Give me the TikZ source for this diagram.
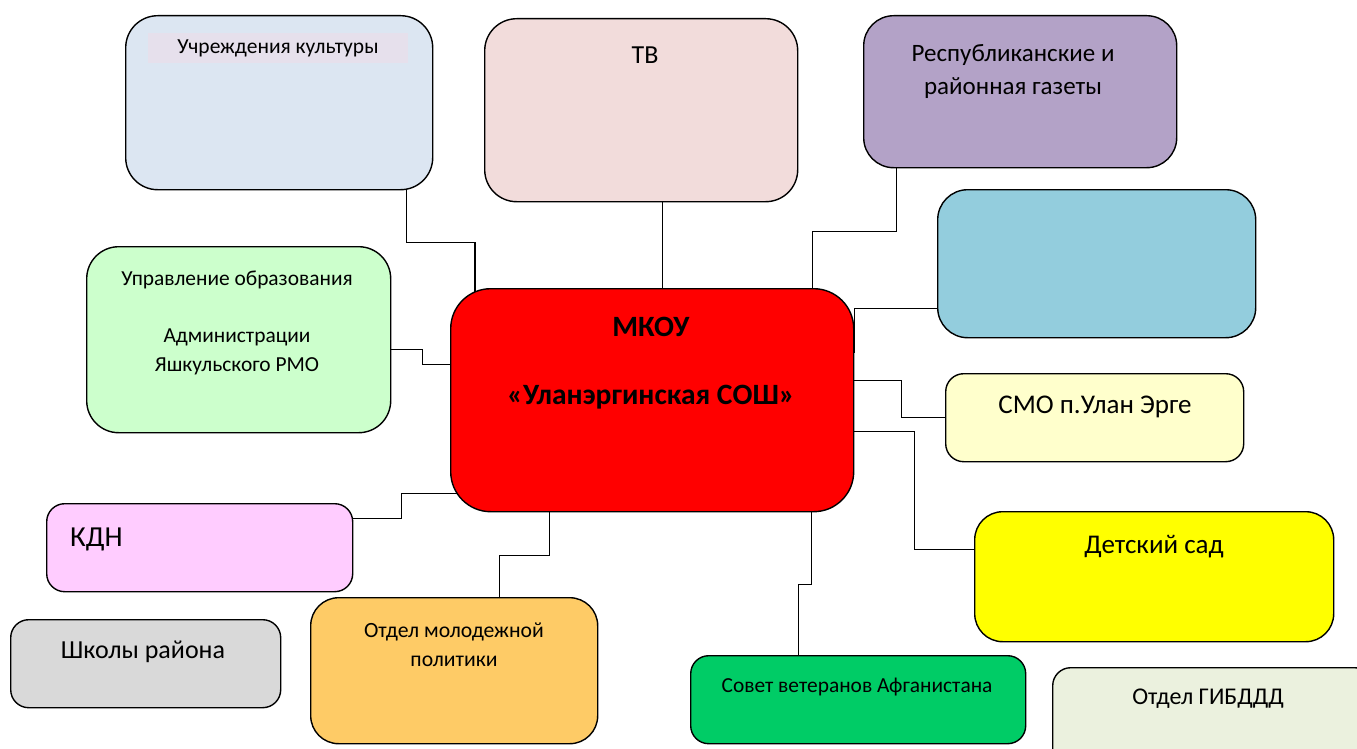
\documentclass[tikz,border=0pt]{standalone}
\usepackage{fontspec}
\setmainfont{Carlito}
\usetikzlibrary{backgrounds}
\definecolor{cultc}{HTML}{DCE6F2}
\definecolor{bandc}{HTML}{E6E0EC}
\definecolor{tvc}{HTML}{F2DCDB}
\definecolor{gazc}{HTML}{B3A2C7}
\definecolor{bluec}{HTML}{93CDDD}
\definecolor{uprc}{HTML}{CCFFCC}
\definecolor{smoc}{HTML}{FFFFCC}
\definecolor{kdnc}{HTML}{FFCCFF}
\definecolor{schc}{HTML}{D9D9D9}
\definecolor{otdc}{HTML}{FECB66}
\definecolor{dsc}{HTML}{FFFF00}
\definecolor{sovc}{HTML}{00CC66}
\definecolor{gibc}{HTML}{EBF1DE}
\tikzset{
  box/.style={draw=black, line width=1.4pt, rounded corners=#1, inner sep=0pt, anchor=north west},
  conn/.style={draw=black, line width=1.4pt},
  lbl/.style={inner sep=0pt, align=center, text=black}
}
\begin{document}
\begin{tikzpicture}[x=1pt,y=-1pt]
\useasboundingbox (0,0) rectangle (1357,749);
\clip (0,0) rectangle (1357,749);
% boxes
\node[box=32pt, fill=cultc, minimum width=307pt, minimum height=174pt] (cult) at (125,15) {};
\node[box=32pt, fill=tvc, minimum width=313pt, minimum height=183pt] (tv) at (484,18) {};
\node[box=30pt, fill=gazc, minimum width=313pt, minimum height=152pt] (gaz) at (863,15) {};
\node[box=30pt, fill=bluec, minimum width=318pt, minimum height=148pt] (blue) at (937,189) {};
\node[box=32pt, fill=uprc, minimum width=304pt, minimum height=186pt] (upr) at (86,246) {};
\node[box=40pt, fill=red, minimum width=403pt, minimum height=223pt] (mk) at (450,288) {};
\node[box=18pt, fill=smoc, minimum width=298pt, minimum height=88pt] (smo) at (945,373) {};
\node[box=18pt, fill=kdnc, minimum width=306pt, minimum height=88pt] (kdn) at (46,503) {};
\node[box=18pt, fill=schc, minimum width=270pt, minimum height=88pt] (sch) at (10,619) {};
\node[box=28pt, fill=otdc, minimum width=287pt, minimum height=146pt] (otd) at (310,597) {};
\node[box=28pt, fill=dsc, minimum width=359pt, minimum height=130pt] (ds) at (974,511) {};
\node[box=18pt, fill=sovc, minimum width=335pt, minimum height=88pt] (sov) at (690,655) {};
\node[box=18pt, fill=gibc, minimum width=320pt, minimum height=100pt] (gib) at (1052,667) {};
% text band in culture box
\fill[bandc] (148,33) rectangle (408,63);
% labels
\node[lbl, font=\fontsize{21.5}{24}\selectfont] (tcult) at (278,48) {Учреждения культуры};
\node[lbl, font=\fontsize{26}{30}\selectfont] (ttv) at (645,55) {ТВ};
\node[lbl, font=\fontsize{25}{33}\selectfont] (tgaz) at (1013,72) {Республиканские и\\районная газеты};
\node[lbl, font=\fontsize{21.4}{28.5}\selectfont] (tupr) at (237,323) {Управление образования\\[28.5pt]Администрации\\Яшкульского РМО};
\node[lbl, font=\bfseries\fontsize{29.5}{34}\selectfont] (tmk) at (651,363) {МКОУ\\[34pt]«Уланэргинская СОШ»};
\node[lbl, font=\fontsize{27}{30}\selectfont] (tsmo) at (1095,407) {СМО п.Улан Эрге};
\node[lbl, font=\fontsize{29}{32}\selectfont, anchor=west] (tkdn) at (70,539) {КДН};
\node[lbl, font=\fontsize{26}{30}\selectfont] (tsch) at (143,652) {Школы района};
\node[lbl, font=\fontsize{21.7}{29}\selectfont] (totd) at (454,645) {Отдел молодежной\\политики};
\node[lbl, font=\fontsize{27}{30}\selectfont] (tds) at (1154,547) {Детский сад};
\node[lbl, font=\fontsize{21.4}{24}\selectfont] (tsov) at (857,687) {Совет ветеранов Афганистана};
\node[lbl, font=\fontsize{24}{28}\selectfont] (tgib) at (1208,699) {Отдел ГИБДДД};
% connectors
\begin{scope}[on background layer]
\draw[conn] ([xshift=127.5pt]cult.south) -- ++(0,52) -| ([xshift=25pt,yshift=-6pt]mk.north west);
\draw[conn] ([xshift=21.5pt]tv.south) -- ([xshift=10.5pt,yshift=-4pt]mk.north);
\draw[conn] ([xshift=-123.5pt]gaz.south) -- ++(0,63) -| ([xshift=-42pt,yshift=-6pt]mk.north east);
\draw[conn] ([yshift=-45pt]blue.west) -| ([yshift=-65pt]mk.north east);
\draw[conn] ([yshift=19.5pt]mk.east) -- ++(47,0) |- (smo.west);
\draw[conn] ([yshift=-31.5pt]mk.east) -- ++(60,0) |- ([yshift=27pt]ds.west);
\draw[conn] ([xshift=159.5pt]mk.south) -- ++(0,72) -| ([xshift=-59.5pt]sov.north);
\draw[conn] ([xshift=-102.5pt]mk.south) -- ++(0,43) -| ([xshift=45.5pt]otd.north);
\draw[conn] ([yshift=29pt]kdn.east) -- ++(48,0) |- ([xshift=8pt,yshift=-93.5pt]mk.west);
\draw[conn] ([yshift=-10pt]upr.east) -- ++(31,0) |- ([yshift=35.5pt]mk.west);
\end{scope}
\end{tikzpicture}
\end{document}
